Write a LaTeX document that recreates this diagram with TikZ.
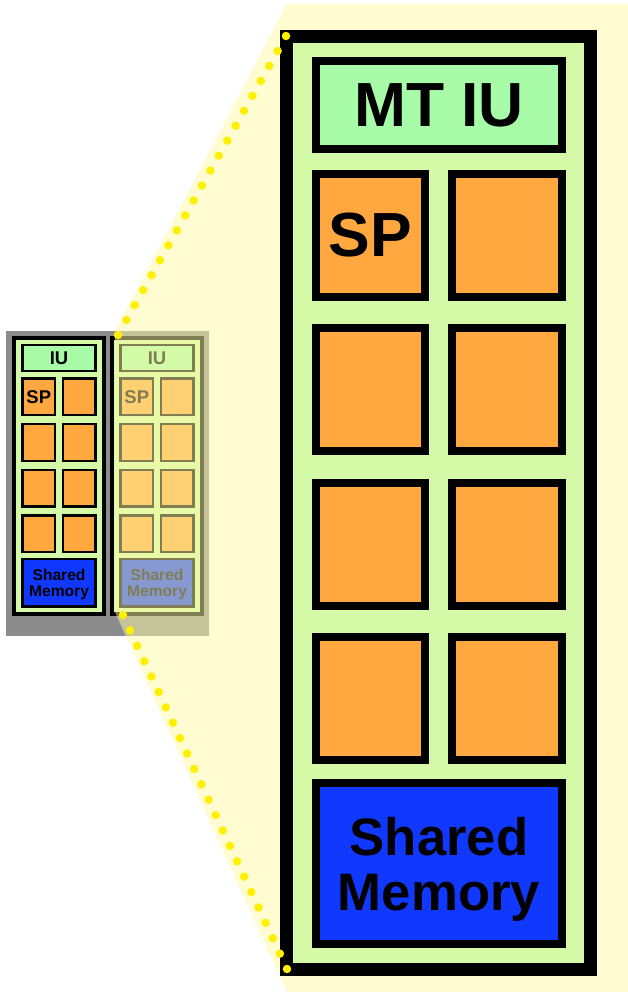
\documentclass[tikz,border=0pt]{standalone}
\usepackage{fontspec}
\setmainfont{Liberation Sans}
\usetikzlibrary{calc}
\definecolor{smgreen}{RGB}{212,250,168}
\definecolor{iugreen}{RGB}{168,252,168}
\definecolor{sporange}{RGB}{255,168,64}
\definecolor{memblue}{RGB}{16,56,255}
\definecolor{zoomyellow}{RGB}{255,250,165}
\definecolor{dotyellow}{RGB}{255,240,0}
\definecolor{chipgray}{RGB}{140,140,140}

% black-rimmed unit box: x1 y1 x2 y2 fill
\newcommand\cellbox[5]{%
  \fill[black] (#1,#2) rectangle (#3,#4);
  \fill[#5] ({#1+8},{#2+8}) rectangle ({#3-8},{#4-8});
}

\tikzset{
  smlabel/.style={transform shape, inner sep=0pt, text=black,
    font=\fontsize{35.5}{42}\selectfont\bfseries},
  memlabel/.style={align=center, font=\fontsize{30}{31.2}\selectfont\bfseries},
  pics/sm/.style={code={
    % frame of one multiprocessor
    \fill[black] (0,0) rectangle (317,946);
    \fill[smgreen] (13,13) rectangle (304,933);
    \cellbox{32}{27}{286}{123}{iugreen}
    \node[smlabel] (-iu) at (159,75) {#1};
    % 2x4 scalar processors
    \foreach \r in {0,...,3}{
      \cellbox{32}{140+154.3*\r}{149}{271+154.3*\r}{sporange}
      \cellbox{168}{140+154.3*\r}{286}{271+154.3*\r}{sporange}
    }
    \node[smlabel] (-sp) at (90.5,205.5) {SP};
    \cellbox{32}{749}{286}{918}{memblue}
    \node[smlabel, memlabel] (-mem) at (159,839) {Shared\\Memory};
  }}
}

\begin{document}
\begin{tikzpicture}[x=0.02cm, y=-0.02cm]
  \useasboundingbox (0,0) rectangle (628,992);
  \fill[white] (0,0) rectangle (628,992);

  % small chip with two multiprocessors
  \fill[chipgray] (6,331) rectangle (209,636);
  \pic[scale=0.296] (smA) at (12,336) {sm=IU};
  \pic[scale=0.296] (smB) at (110,336) {sm=IU};

  % zoom area
  \fill[zoomyellow, fill opacity=0.5] (287,4) -- (628,4) -- (628,992)
    -- (287,992) -- (115,612) -- (115,331) -- cycle;

  % enlarged multiprocessor
  \pic (smBig) at (280,30) {sm={MT IU}};

  % dotted zoom lines
  \coordinate (topA) at (286,36);
  \coordinate (topB) at (118,335);
  \coordinate (botA) at (123,615);
  \coordinate (botB) at (287,969);
  \foreach \t in {0,...,20}
    \fill[dotyellow] ($(topA)!\t/20!(topB)$) circle (0.085cm);
  \foreach \t in {0,...,23}
    \fill[dotyellow] ($(botA)!\t/23!(botB)$) circle (0.085cm);
\end{tikzpicture}
\end{document}
